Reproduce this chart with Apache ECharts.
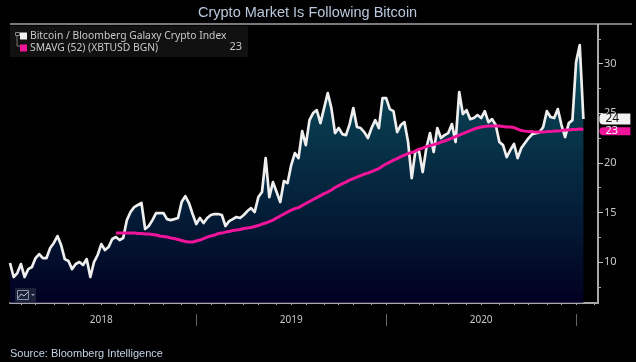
<!DOCTYPE html>
<html><head><meta charset="utf-8">
<style>html,body{margin:0;padding:0;background:#000}#c{width:636px;height:362px}</style>
<script src="https://cdn.jsdelivr.net/npm/echarts@6/dist/echarts.min.js"></script>
</head><body><div id="c"></div>
<script>
const titleText = 'Crypto Market Is Following Bitcoin';
const sourceText = 'Source: Bloomberg Intelligence';
const seriesNames = ['Bitcoin / Bloomberg Galaxy Crypto Index', 'SMAVG (52) (XBTUSD BGN)'];
const yTickLabels = [10, 15, 20, 25, 30];
const yMinorTicks = [7.5, 12.5, 17.5, 22.5, 27.5, 32.5];
const firstWeek = '2018-01-12';
const weekCount = 162;
const ratio = [9.9,8.49,8.89,9.8,8.49,9.29,9.5,10.4,10.8,10.4,10.4,11.41,11.92,12.62,11.71,10.3,10.1,9.29,9.8,10,9.7,10.3,8.49,10,10.71,11.81,11.21,11.51,12.32,12.52,12.22,12.42,14.23,15.04,15.54,15.75,15.95,13.33,13.63,14.23,14.94,14.94,14.94,14.33,14.23,14.33,14.44,16.05,16.65,15.95,14.84,13.83,14.44,13.93,14.44,14.74,14.84,14.84,14.74,13.63,14.13,14.33,14.54,14.44,14.74,15.14,15.44,15.04,16.55,17.06,20.48,16.55,18.06,17.06,16.05,18.17,17.96,19.78,20.99,20.48,23.2,21.79,24.31,25.02,25.32,24.01,25.52,27.04,25.52,23,23.51,22.9,22.8,23.91,25.52,23.61,23.51,23.1,22.5,23.51,24.31,23.51,26.53,26.53,25.42,25.22,23.1,23.81,24.11,22.1,18.47,21.19,21.19,19.07,21.49,23,21.09,23.51,22.5,22.8,23,23.91,22.1,27.14,24.92,25.32,24.41,24.52,24.82,24.52,25.22,24.11,24.41,23.81,22.1,21.79,20.58,21.29,21.9,20.48,21.49,22,22.5,22.9,23,23.1,23.61,25.22,24.62,24.52,25.42,23.81,22.6,24.01,24.31,30.16,31.87,24.42];
const smavg = [12.92,12.92,12.92,12.92,12.92,12.92,12.87,12.87,12.82,12.82,12.77,12.72,12.62,12.57,12.52,12.42,12.37,12.27,12.17,12.07,12.02,12.02,12.12,12.22,12.37,12.52,12.62,12.72,12.87,12.92,13.02,13.07,13.18,13.23,13.28,13.38,13.43,13.48,13.58,13.68,13.83,13.93,14.08,14.23,14.44,14.64,14.84,15.04,15.24,15.39,15.49,15.7,15.9,16.1,16.3,16.5,16.7,16.9,17.06,17.26,17.51,17.71,17.91,18.06,18.27,18.42,18.57,18.72,18.87,18.97,19.12,19.27,19.42,19.68,19.88,20.08,20.28,20.43,20.63,20.79,20.94,21.04,21.19,21.39,21.49,21.64,21.74,21.84,21.94,22.1,22.2,22.35,22.5,22.65,22.8,22.95,23.1,23.26,23.41,23.51,23.61,23.66,23.71,23.71,23.71,23.71,23.66,23.61,23.61,23.56,23.41,23.26,23.2,23.15,23.15,23.1,23.1,23.1,23.15,23.15,23.2,23.2,23.26,23.31,23.31,23.36,23.36,23.41,23.4];

const categories = [];
for (let i = 0, t = Date.parse(firstWeek + 'T00:00:00Z'); i < weekCount; i++, t += 7 * 864e5) {
  categories.push(new Date(t).toISOString().slice(0, 10));
}
const smaData = Array(ratio.length - smavg.length).fill(null).concat(smavg);
const isMonthStart = v => +v.slice(8) <= 7;
const isYearStart = v => v.slice(5, 7) === '01' && +v.slice(8) <= 7;
const isMidYear = v => v.slice(5, 7) === '07' && +v.slice(8) <= 7;
const yRange = { min: 5.87, max: 33.9 };
const chart = echarts.init(document.getElementById('c'), null, { renderer: 'canvas' });
chart.setOption({
  animation: false,
  backgroundColor: '#000',
  title: [
    { text: titleText, left: 198, top: 5, padding: 0, textStyle: { color: '#b9c9dc', fontFamily: 'Liberation Sans', fontSize: 14.5, fontWeight: 'normal' } },
    { text: sourceText, left: 10, top: 348, padding: 0, textStyle: { color: '#c3d3e6', fontFamily: 'Liberation Sans', fontSize: 11, fontWeight: 'normal' } }
  ],
  legend: {
    left: 15, top: 30, padding: [0, 0, 0, 5], orient: 'vertical', itemWidth: 7, itemHeight: 7, itemGap: 0, icon: 'rect',
    selectedMode: false,
    textStyle: { color: '#c8c8c8', fontFamily: 'Noto Sans', fontSize: 10.3, padding: [0, 0, 0, -2], lineHeight: 12 },
    data: seriesNames
  },
  grid: { left: 10, right: 38, top: 25, bottom: 59 },
  xAxis: [
    { type: 'category', data: categories, boundaryGap: false,
      axisLine: { lineStyle: { color: '#a8a8a8', width: 2 } },
      axisTick: { interval: (i, v) => isMonthStart(v), length: 2, lineStyle: { color: '#a8a8a8' } },
      axisLabel: { interval: (i, v) => isMidYear(v), formatter: v => v.slice(0, 4), color: '#c8c8c8', fontFamily: 'Noto Sans', fontSize: 10, margin: 12 } },
    { type: 'category', data: categories, boundaryGap: false, position: 'bottom', offset: 11,
      axisLine: { show: false },
      axisTick: { interval: (i, v) => isYearStart(v), length: 12, lineStyle: { color: '#666' } },
      axisLabel: { show: false } }
  ],
  yAxis: [
    { type: 'value', position: 'right', ...yRange, splitLine: { show: false },
      axisLine: { show: true, lineStyle: { color: '#a8a8a8', width: 2 } },
      axisTick: { show: true, length: 5, customValues: yTickLabels, lineStyle: { color: '#c0c0c0' } },
      axisLabel: { customValues: yTickLabels, color: '#c8c8c8', fontFamily: 'Noto Sans', fontSize: 11, margin: 6, padding: [2, 0, 0, 0] } },
    { type: 'value', position: 'right', ...yRange, splitLine: { show: false },
      axisLine: { show: false },
      axisTick: { show: true, length: 3, customValues: yMinorTicks, lineStyle: { color: '#a8a8a8' } },
      axisLabel: { show: false } }
  ],
  series: [
    { name: seriesNames[0], type: 'line', data: ratio, symbol: 'none', z: 3,
      itemStyle: { color: '#f0f0f0' },
      lineStyle: { color: '#eeeeee', width: 2.7, join: 'round' },
      areaStyle: { origin: 'start', color: { type: 'linear', x: 0, y: 0, x2: 0, y2: 1, colorStops: [
        { offset: 0, color: '#14788f' }, { offset: 0.25, color: '#0c5670' }, { offset: 0.55, color: '#073558' }, { offset: 1, color: '#020030' } ] } },
      endLabel: { show: true, formatter: p => String(Math.round(p.value)), color: '#111', backgroundColor: '#f2f2f2', fontFamily: 'Noto Sans', fontSize: 12, lineHeight: 11, width: 25, padding: [0, 0, 0, 6], distance: 0, offset: [16, 0], borderRadius: [4, 0, 0, 4] } },
    { name: seriesNames[1], type: 'line', data: smaData, symbol: 'none', z: 4,
      itemStyle: { color: '#f0149b' },
      lineStyle: { color: '#f0149b', width: 3, join: 'round' },
      endLabel: { show: true, formatter: p => String(Math.round(p.value)), color: '#f6f6f6', backgroundColor: '#f0149b', fontFamily: 'Noto Sans', fontSize: 11, lineHeight: 8, width: 25, padding: [0, 0, 0, 6], distance: 0, offset: [16, 2], borderRadius: [4, 0, 0, 4] } }
  ],
  graphic: [
    { type: 'line', z: 1, shape: { x1: 10, y1: 24, x2: 632, y2: 24 }, style: { stroke: '#f2f2f2', lineWidth: 1 } },
    { type: 'rect', z: 1, shape: { x: 10, y: 26, width: 238, height: 31 }, style: { fill: '#111111' } },
    { type: 'polyline', z: 2, shape: { points: [[17, 36], [17, 46], [20, 46]] }, style: { stroke: '#777', fill: null, lineWidth: 1 } },
    { type: 'rect', z: 2, shape: { x: 15.5, y: 32.5, width: 4, height: 3 }, style: { stroke: '#888', fill: null, lineWidth: 1 } },
    { type: 'text', z: 2, style: { x: 242, y: 41, text: '23', fill: '#c8c8c8', font: '11px "Noto Sans"', textAlign: 'right' } },
    { type: 'rect', z: 5, shape: { x: 15, y: 288, width: 21, height: 14 }, style: { fill: '#1b2138' } },
    { type: 'rect', z: 6, shape: { x: 17.5, y: 290.5, width: 11, height: 9 }, style: { stroke: '#8a93a8', fill: null, lineWidth: 1 } },
    { type: 'polyline', z: 6, shape: { points: [[18, 298], [21, 294], [24, 296], [28, 292]] }, style: { stroke: '#c0c6d4', fill: null, lineWidth: 1 } },
    { type: 'polygon', z: 6, shape: { points: [[31, 294], [35, 294], [33, 296]] }, style: { fill: '#9aa0ae' } }
  ]
});
</script></body></html>
